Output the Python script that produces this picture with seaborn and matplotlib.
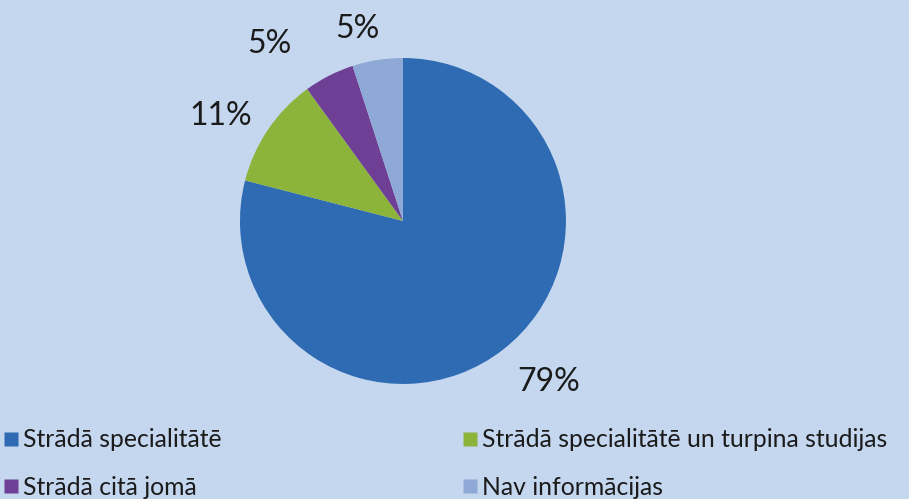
import matplotlib
matplotlib.use("Agg")
import numpy as np
import matplotlib.pyplot as plt
import seaborn as sns
from matplotlib.lines import Line2D

categories = ["Strādā specialitātē", "Strādā specialitātē un turpina studijas",
              "Strādā citā jomā", "Nav informācijas"]
shares = [79, 11, 5, 5]
colors = ["#2f6bb3", "#8cb33a", "#6e3f95", "#8ea9d6"]

# label placement (radius in pie radii, angular nudge in degrees)
label_radius = [1.33, 1.29, 1.36, 1.21]
label_shift = [4.4, 4.2, 10.0, 4.5]

sns.set_theme(style="white")
plt.rcParams["font.family"] = ["Lato", "DejaVu Sans"]
bg = "#c4d7ef"

fig = plt.figure(figsize=(9.09, 4.99), dpi=100, facecolor=bg)
ax = fig.add_axes([0.264, 0.2305, 0.3586, 0.6533])
ax.set_facecolor(bg)

wedges, texts, autotexts = ax.pie(
    shares, colors=colors, startangle=90, counterclock=False,
    autopct=lambda p: f"{p:.0f}%", pctdistance=1.3,
    wedgeprops=dict(edgecolor="none"),
    textprops=dict(fontsize=23, color="#1b1b1b"))
for w, t, r, s in zip(wedges, autotexts, label_radius, label_shift):
    mid = np.deg2rad((w.theta1 + w.theta2) / 2 + s)
    t.set_position((r * np.cos(mid), r * np.sin(mid)))
ax.set_xlim(-1, 1); ax.set_ylim(-1, 1)
ax.set_aspect("equal")
ax.axis("off")

handles = [Line2D([], [], marker="s", linestyle="none", markersize=9.5,
                  markerfacecolor=c, markeredgecolor="none") for c in colors]
order = [0, 2, 1, 3]
fig.legend([handles[i] for i in order], [categories[i] for i in order],
           ncol=2, loc="lower left", bbox_to_anchor=(-0.020, -0.044),
           frameon=False, fontsize=17.8, handlelength=0.55, handletextpad=0.2,
           columnspacing=9.8, labelspacing=0.98, labelcolor="#1b1b1b")

fig.savefig("out.png", dpi=100, facecolor=bg)
